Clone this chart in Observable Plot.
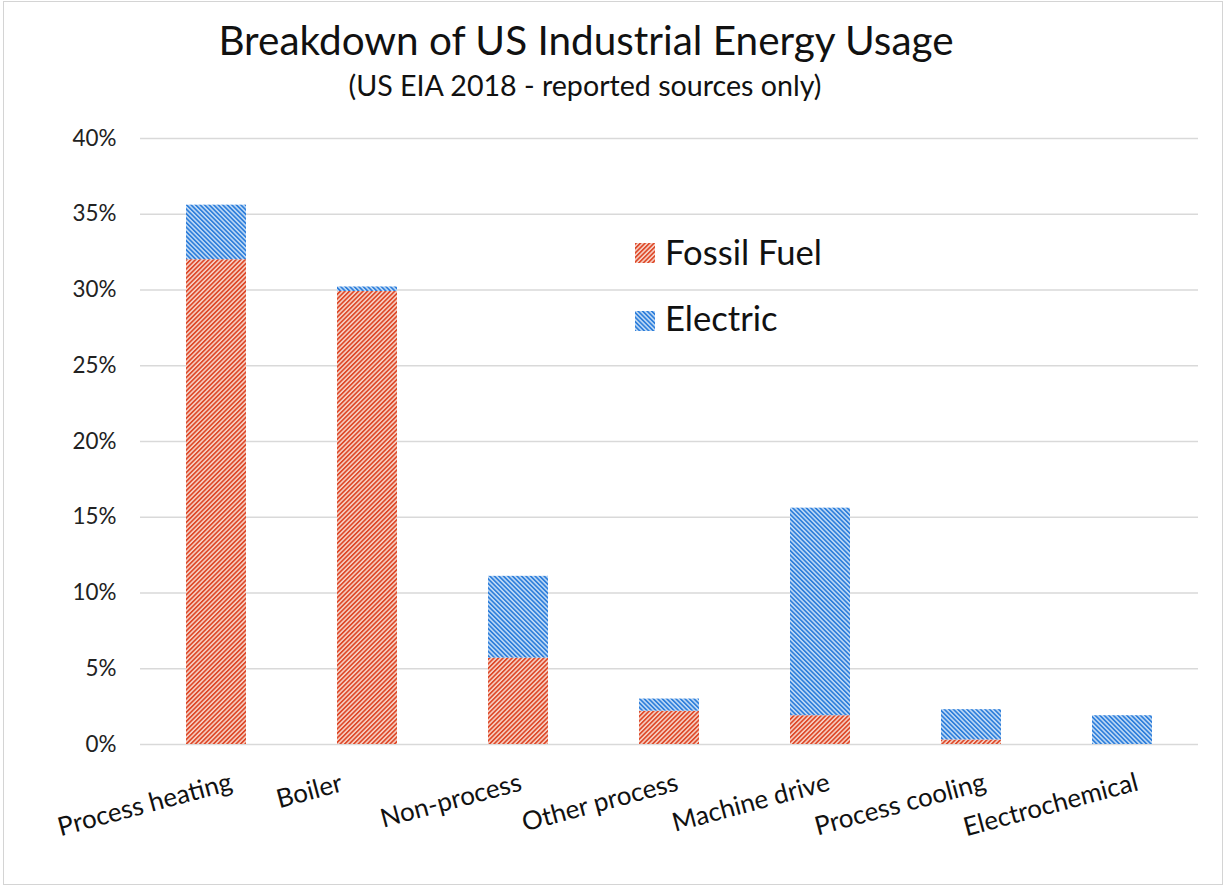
<!DOCTYPE html>
<html>
<head>
<meta charset="utf-8">
<script src="https://cdn.jsdelivr.net/npm/d3@7"></script>
<script src="https://cdn.jsdelivr.net/npm/@observablehq/plot@0.6"></script>
<style>
  html, body { margin: 0; padding: 0; background: #fff; }
  #wrap { position: relative; width: 1227px; height: 890px; overflow: hidden; background: #fff; }
  #frame { position: absolute; left: 3px; top: 1px; width: 1220px; height: 884px; border: 1.5px solid #d4d4d4; box-sizing: border-box; }
  #header { position: absolute; left: 0; top: 0; }
  #chart { position: absolute; left: 0; top: 110px; }
  #legend { position: absolute; left: 0; top: 0; pointer-events: none; }
</style>
</head>
<body>
<div id="wrap">
  <svg width="0" height="0" style="position:absolute">
    <defs>
      <pattern id="hatchFossil" width="3.2" height="3.2" patternUnits="userSpaceOnUse" patternTransform="rotate(45)">
        <rect width="3.2" height="3.2" fill="#f7d3c8"></rect>
        <rect width="1.7" height="3.2" fill="#de4a2a"></rect>
      </pattern>
      <pattern id="hatchElectric" width="3.2" height="3.2" patternUnits="userSpaceOnUse" patternTransform="rotate(-45)">
        <rect width="3.2" height="3.2" fill="#c3dcf6"></rect>
        <rect width="1.7" height="3.2" fill="#2f7fdb"></rect>
      </pattern>
    </defs>
  </svg>
  <div id="frame"></div>
  <svg id="header" width="1227" height="110"></svg>
  <div id="chart"></div>
  <svg id="legend" width="1227" height="890"></svg>
</div>
<script>
// ---- data ----
const title = "Breakdown of US Industrial Energy Usage";
const subtitle = "(US EIA 2018 - reported sources only)";
const categories = ["Process heating", "Boiler", "Non-process", "Other process", "Machine drive", "Process cooling", "Electrochemical"];
const sources = ["Fossil Fuel", "Electric"];
const fossil = [32.0, 29.9, 5.7, 2.2, 1.9, 0.3, 0.0];
const electric = [3.6, 0.3, 5.4, 0.8, 13.7, 2.0, 1.9];
const yTicks = [0, 5, 10, 15, 20, 25, 30, 35, 40];
const patternUrls = ["url(#hatchFossil)", "url(#hatchElectric)"];

const FONT = "Lato";
const ctx = document.createElement("canvas").getContext("2d");
function measure(text, size) {
  ctx.font = `${size}px ${FONT}`;
  return ctx.measureText(text).width;
}
function fitSize(text, target) {
  return 100 * target / measure(text, 100);
}

const data = categories.flatMap((c, i) => [
  {category: c, source: sources[0], value: fossil[i]},
  {category: c, source: sources[1], value: electric[i]}
]);

// ---- header ----
const header = d3.select("#header").attr("font-family", FONT);
header.append("text")
  .attr("x", 586).attr("y", 55).attr("text-anchor", "middle")
  .attr("font-size", fitSize(title, 737)).attr("fill", "#111")
  .text(title);
header.append("text")
  .attr("x", 585).attr("y", 96).attr("text-anchor", "middle")
  .attr("font-size", fitSize(subtitle, 474)).attr("fill", "#111")
  .text(subtitle);

// ---- chart ----
const ySize = fitSize("40%", 44);
const xSize = fitSize("Process heating", 179);

// rotated category labels: offset depends on label length (spreadsheet-style placement)
const labelMarks = categories.map(c => {
  const L = measure(c, xSize);
  return Plot.text([c], {
    x: d => d, text: d => d, frameAnchor: "bottom",
    dx: -48 - 0.12 * L, dy: 47 + 0.12 * L,
    rotate: -15, fontSize: xSize, fill: "#111"
  });
});

const chart = Plot.plot({
  width: 1227,
  height: 780,
  marginTop: 28,
  marginBottom: 146,
  marginLeft: 140,
  marginRight: 29,
  style: {fontFamily: FONT, background: "transparent", overflow: "visible"},
  x: {domain: categories, paddingInner: 0.6, paddingOuter: 0.3, axis: null},
  y: {domain: [0, 40], axis: null},
  color: {domain: sources, range: patternUrls},
  marks: [
    Plot.ruleY(yTicks, {stroke: "#d9d9d9", strokeWidth: 1.6}),
    Plot.barY(data, {x: "category", y: "value", fill: "source"}),
    Plot.axisY({ticks: yTicks, tickSize: 0, tickPadding: 24, tickFormat: d => d + "%", label: null, fontSize: ySize, color: "#222"}),
    ...labelMarks
  ]
});
document.getElementById("chart").appendChild(chart);

// ---- legend ----
const legend = d3.select("#legend").attr("font-family", FONT);
const legendRows = [
  {label: sources[0], fill: patternUrls[0], swatchY: 243, baseline: 265},
  {label: sources[1], fill: patternUrls[1], swatchY: 311, baseline: 331}
];
const lSize = fitSize("Fossil Fuel", 157);
legendRows.forEach(r => {
  legend.append("rect").attr("x", 635).attr("y", r.swatchY).attr("width", 20).attr("height", 20).attr("fill", r.fill);
  legend.append("text").attr("x", 665).attr("y", r.baseline).attr("font-size", lSize).attr("fill", "#111").text(r.label);
});
</script>
</body>
</html>
